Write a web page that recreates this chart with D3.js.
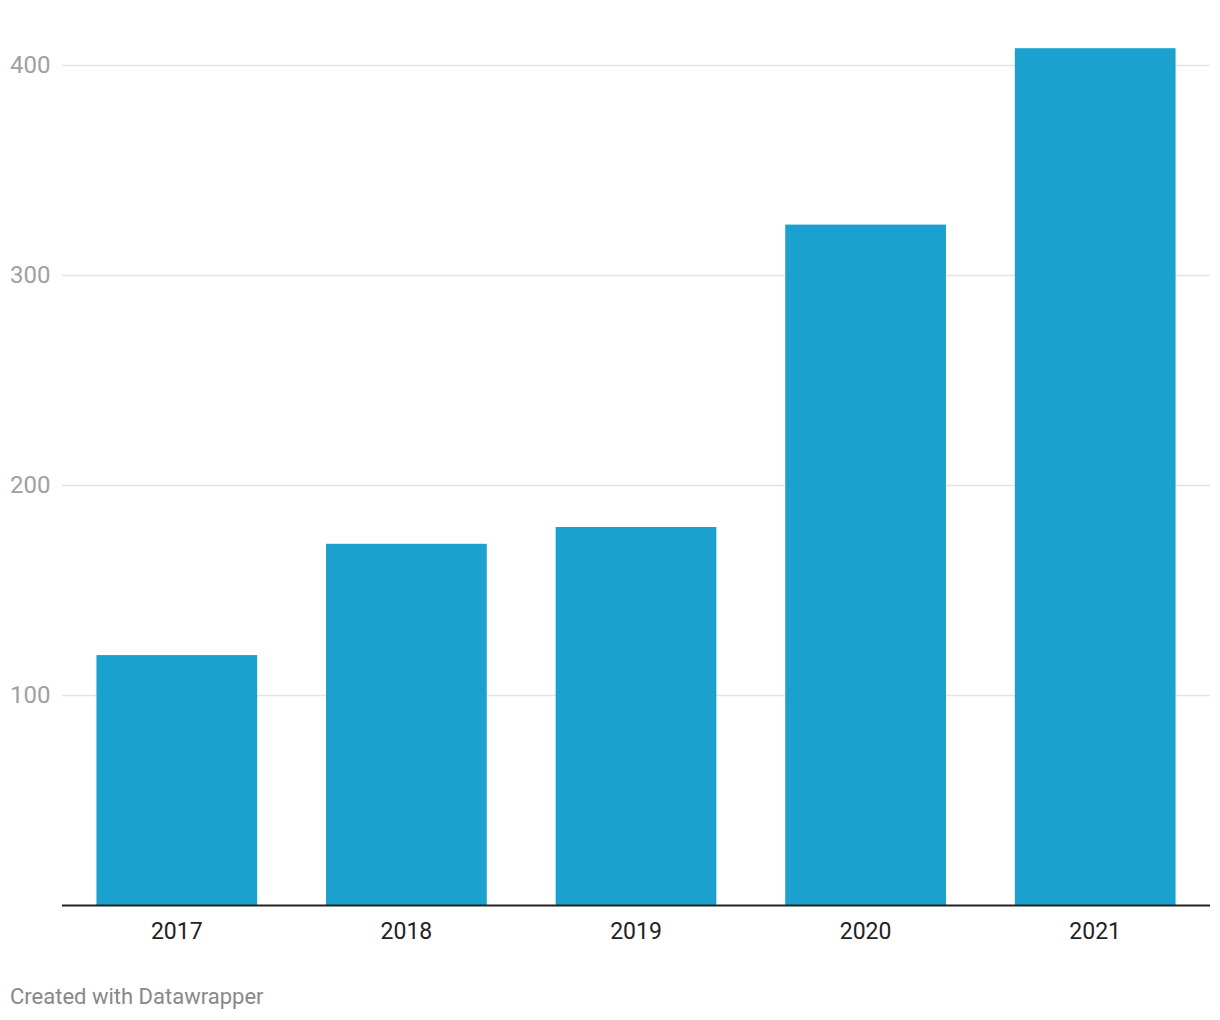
<!DOCTYPE html>
<html>
<head>
<meta charset="utf-8">
<script src="https://cdn.jsdelivr.net/npm/d3@7"></script>
<style>
  body { margin: 0; background: #fff; font-family: Roboto, sans-serif; }
</style>
</head>
<body>
<div id="chart"></div>
<script>
// data
var years = ["2017", "2018", "2019", "2020", "2021"];
var values = [119, 172, 180, 324, 408];
var yTicks = [100, 200, 300, 400];

var W = 1220, H = 1020;
var margin = {top: 0, right: 10, bottom: 0, left: 62};
var x0 = margin.left, x1 = W - margin.right;

var svg = d3.select("#chart").append("svg")
  .attr("width", W)
  .attr("height", H);

var x = d3.scaleBand()
  .domain(years)
  .range([x0, x1])
  .paddingInner(0.3)
  .paddingOuter(0.15);

// 0 -> 905, 400 -> 65
var y = d3.scaleLinear()
  .domain([0, 400])
  .range([905, 65]);

// gridlines + labels
var grid = svg.append("g");
grid.selectAll("line")
  .data(yTicks)
  .enter().append("line")
    .attr("x1", x0)
    .attr("x2", x1)
    .attr("y1", d => y(d) + 0.5)
    .attr("y2", d => y(d) + 0.5)
    .attr("stroke", "#e3e3e3")
    .attr("stroke-width", 1.5);
grid.selectAll("text")
  .data(yTicks)
  .enter().append("text")
    .attr("x", 10)
    .attr("y", d => y(d))
    .attr("dy", "0.35em")
    .style("font-size", "24px")
    .attr("fill", "#a0a0a0")
    .text(d => d);

// bars
svg.selectAll("rect.bar")
  .data(values)
  .enter().append("rect")
    .attr("class", "bar")
    .attr("x", (d, i) => x(years[i]))
    .attr("y", d => y(d))
    .attr("width", x.bandwidth())
    .attr("height", d => y(0) - y(d))
    .attr("fill", "#1aa1ce");

// baseline
svg.append("line")
  .attr("x1", x0)
  .attr("x2", x1)
  .attr("y1", y(0) + 0.5)
  .attr("y2", y(0) + 0.5)
  .attr("stroke", "#222")
  .attr("stroke-width", 2);

// x labels
svg.append("g").selectAll("text")
  .data(years)
  .enter().append("text")
    .attr("x", d => x(d) + x.bandwidth() / 2)
    .attr("y", 939)
    .attr("text-anchor", "middle")
    .style("font-size", "23px")
    .attr("fill", "#222")
    .text(d => d);

// footer
svg.append("text")
  .attr("x", 10)
  .attr("y", 1004)
  .style("font-size", "22px")
  .attr("fill", "#888")
  .text("Created with Datawrapper");
</script>
</body>
</html>
